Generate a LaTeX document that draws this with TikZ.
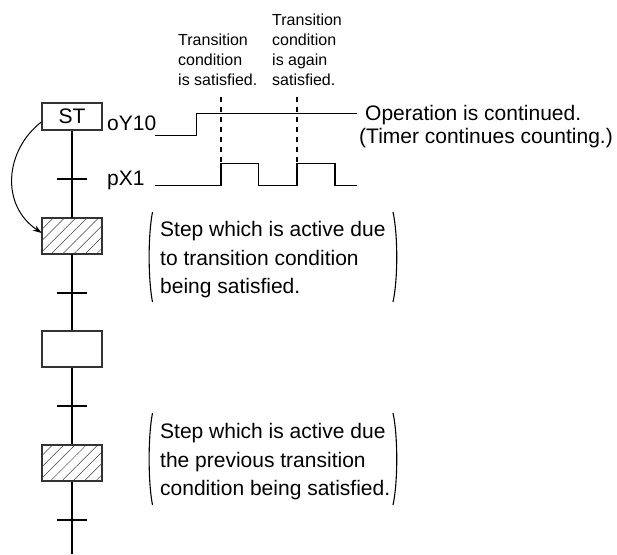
\documentclass[tikz,border=0pt]{standalone}
\usepackage{fontspec}
\setmainfont{Liberation Sans}
\usetikzlibrary{positioning,patterns.meta,arrows.meta}

\begin{document}
\begin{tikzpicture}[x=1pt,y=-1pt,>={Stealth[length=9pt,width=6pt]},line join=miter,
                every node/.style={font=\fontsize{21}{28.5}\selectfont,inner sep=0pt},
                stepbox/.style={draw=black!80,line width=1.2pt,minimum width=60pt,minimum height=36pt},
                hatched/.style={stepbox,pattern={Lines[angle=45,distance=8pt,line width=0.5pt]},pattern color=black!75},
                small/.style={font=\fontsize{16}{20}\selectfont,align=left,anchor=north west},
                note/.style={align=left,anchor=north west},
                wave/.style={line width=1.1pt},
                flow/.style={line width=2pt},
                brace/.style={line width=1.1pt}]
            \useasboundingbox (0,0) rectangle (617,554);

            \node[stepbox,minimum height=27pt] (ST) at (72,116.5) {ST};
            \node[hatched] (s1) at (72,236) {};
            \node[stepbox] (s2) at (72,349) {};
            \node[hatched] (s3) at (72,463) {};
            \coordinate (t1) at (72,179);
            \coordinate (t2) at (72,292.7);
            \coordinate (t3) at (72,405.7);
            \coordinate (t4) at (72,519.7);
            \coordinate (end) at (72,554);

            \draw[flow] (ST) -- (s1);
            \draw[flow] (s1) -- (s2);
            \draw[flow] (s2) -- (s3);
            \draw[flow] (s3) -- (end);
            \foreach \t in {t1,t2,t3,t4}
                \draw[flow] ([xshift=-15pt]\t) -- ([xshift=15pt]\t);

            \draw[->,line width=1pt] ([yshift=-5.5pt]ST.west) .. controls (5,150) and (0,205) .. ([yshift=3pt]s1.west);

            \node[anchor=base west] (y10) at (107,130) {oY10};
            \node[anchor=base west] (x1) at (107,185) {pX1};
            \draw[wave] (155,135.5) -- (196.5,135.5) -- (196.5,113.5) -- (356.7,113.5);
            \draw[wave] (155,185.5) -- (221,185.5) -- (221,163.5) -- (258.5,163.5) -- (258.5,185.5)
                -- (297,185.5) -- (297,163.5) -- (335,163.5) -- (335,185.5) -- (356.7,185.5);
            \draw[line width=1.8pt,dash pattern=on 5pt off 5pt] (221,97) -- (221,163.5);
            \draw[line width=1.8pt,dash pattern=on 5pt off 5pt] (297,97) -- (297,163.5);

            \node[small] (c1) at (178,34) {Transition\\condition\\is satisfied.};
            \node[small] (c2) at (272,14) {Transition\\condition\\is again\\satisfied.};

            \node[anchor=base west] (op1) at (365,120) {Operation is continued.};
            \node[anchor=base west] (op2) at (359,143.3) {(Timer continues counting.)};

            \node[note] (d1) at (160,221.5) {Step which is active due\\to transition condition\\being satisfied.};
            \node[note] (d2) at (160,423.3) {Step which is active due\\the previous transition\\condition being satisfied.};
            \draw[brace] (152.5,212) .. controls (148,235) and (148,279) .. (152.5,302);
            \draw[brace] (393,212) .. controls (398,235) and (398,279) .. (393,302);
            \draw[brace] (152.5,413) .. controls (148,436) and (148,482) .. (152.5,505);
            \draw[brace] (393,413) .. controls (398,436) and (398,482) .. (393,505);
        \end{tikzpicture}
\end{document}
